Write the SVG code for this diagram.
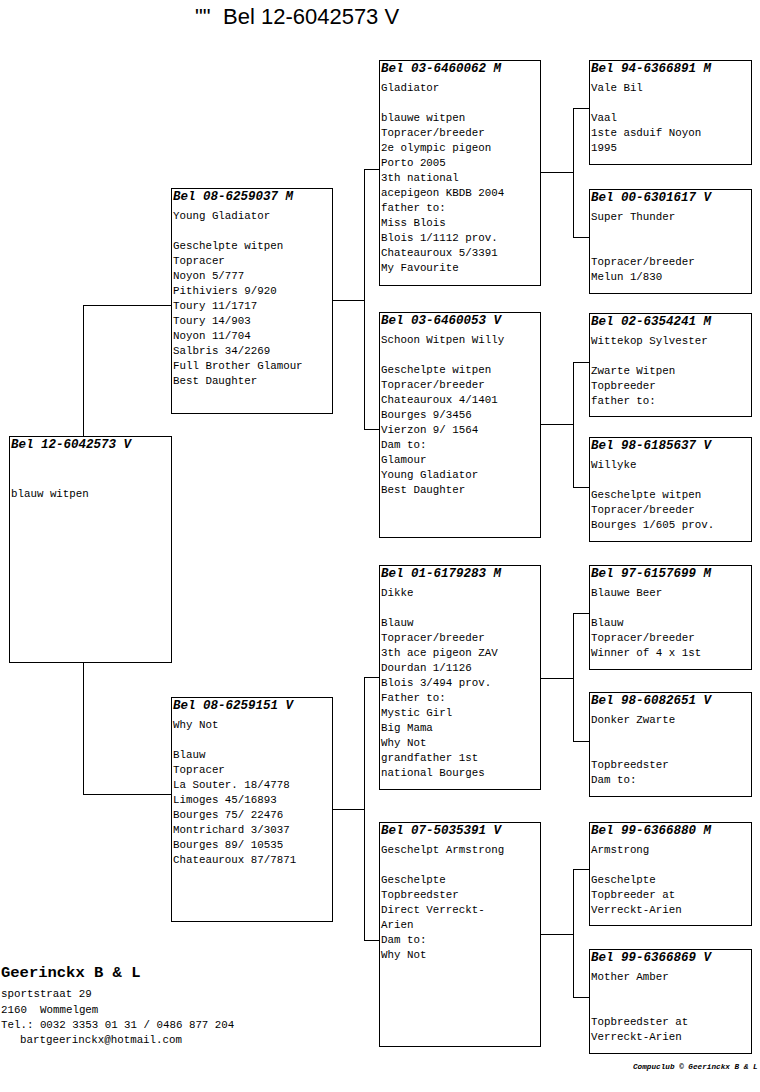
<svg xmlns="http://www.w3.org/2000/svg" width="760" height="1092" viewBox="0 0 760 1092">
<style>
.bx{fill:#fff;stroke:#000;stroke-width:1;shape-rendering:crispEdges}
.cn{fill:none;stroke:#000;stroke-width:1;shape-rendering:crispEdges}
.hd{font-family:"Liberation Mono","Courier New",monospace;font-size:12.5px;font-weight:bold;font-style:italic;fill:#000}
.tx{font-family:"Liberation Mono","Courier New",monospace;font-size:10.8px;fill:#000}
.ttl{font-family:"Liberation Sans",Arial,sans-serif;font-size:22px;fill:#000}
.ft{font-family:"Liberation Mono","Courier New",monospace;font-size:15.5px;font-weight:bold;fill:#000}
.cp{font-family:"Liberation Mono","Courier New",monospace;font-size:7.7px;font-weight:bold;font-style:italic;fill:#000}
</style>
<rect width="760" height="1092" fill="#fff"/>
<text class="ttl" y="24"><tspan x="195">""</tspan><tspan x="223">Bel 12-6042573 V</tspan></text>

<g id="connectors">
<path class="cn" d="M83.5,436 V305.5 H171"/>
<path class="cn" d="M83.5,662 V794.5 H171"/>
<path class="cn" d="M332,300.5 H364.5"/>
<path class="cn" d="M379,169.5 H364.5 V429.5 H379"/>
<path class="cn" d="M332,809.5 H364.5"/>
<path class="cn" d="M379,677.5 H364.5 V940.5 H379"/>
<path class="cn" d="M540,172.5 H573.5"/>
<path class="cn" d="M589,108.5 H573.5 V237.5 H589"/>
<path class="cn" d="M540,424.5 H573.5"/>
<path class="cn" d="M589,362.5 H573.5 V487.5 H589"/>
<path class="cn" d="M540,678.5 H573.5"/>
<path class="cn" d="M589,613.5 H573.5 V741.5 H589"/>
<path class="cn" d="M540,934.5 H573.5"/>
<path class="cn" d="M589,869.5 H573.5 V997.5 H589"/>
</g>

<g id="root">
<rect class="bx" x="9.5" y="436.5" width="162" height="226"/>
<text class="hd" x="11" y="448">Bel 12-6042573 V</text>
<text class="tx" x="11" y="497">blauw witpen</text>
</g>

<g id="sire">
<rect class="bx" x="171.5" y="188.5" width="161" height="225"/>
<text class="hd" x="173" y="200">Bel 08-6259037 M</text>
<text class="tx"><tspan x="173" y="219">Young Gladiator</tspan><tspan x="173" y="249">Geschelpte witpen</tspan><tspan x="173" y="264">Topracer</tspan><tspan x="173" y="279">Noyon 5/777</tspan><tspan x="173" y="294">Pithiviers 9/920</tspan><tspan x="173" y="309">Toury 11/1717</tspan><tspan x="173" y="324">Toury 14/903</tspan><tspan x="173" y="339">Noyon 11/704</tspan><tspan x="173" y="354">Salbris 34/2269</tspan><tspan x="173" y="369">Full Brother Glamour</tspan><tspan x="173" y="384">Best Daughter</tspan></text>
</g>

<g id="dam">
<rect class="bx" x="171.5" y="697.5" width="161" height="224"/>
<text class="hd" x="173" y="709">Bel 08-6259151 V</text>
<text class="tx"><tspan x="173" y="728">Why Not</tspan><tspan x="173" y="758">Blauw</tspan><tspan x="173" y="773">Topracer</tspan><tspan x="173" y="788">La Souter. 18/4778</tspan><tspan x="173" y="803">Limoges 45/16893</tspan><tspan x="173" y="818">Bourges 75/ 22476</tspan><tspan x="173" y="833">Montrichard 3/3037</tspan><tspan x="173" y="848">Bourges 89/ 10535</tspan><tspan x="173" y="863">Chateauroux 87/7871</tspan></text>
</g>

<g id="ss">
<rect class="bx" x="379.5" y="60.5" width="161" height="225"/>
<text class="hd" x="381" y="72">Bel 03-6460062 M</text>
<text class="tx"><tspan x="381" y="91">Gladiator</tspan><tspan x="381" y="121">blauwe witpen</tspan><tspan x="381" y="136">Topracer/breeder</tspan><tspan x="381" y="151">2e olympic pigeon</tspan><tspan x="381" y="166">Porto 2005</tspan><tspan x="381" y="181">3th national</tspan><tspan x="381" y="196">acepigeon KBDB 2004</tspan><tspan x="381" y="211">father to:</tspan><tspan x="381" y="226">Miss Blois</tspan><tspan x="381" y="241">Blois 1/1112 prov.</tspan><tspan x="381" y="256">Chateauroux 5/3391</tspan><tspan x="381" y="271">My Favourite</tspan></text>
</g>

<g id="sd">
<rect class="bx" x="379.5" y="312.5" width="161" height="225"/>
<text class="hd" x="381" y="324">Bel 03-6460053 V</text>
<text class="tx"><tspan x="381" y="343">Schoon Witpen Willy</tspan><tspan x="381" y="373">Geschelpte witpen</tspan><tspan x="381" y="388">Topracer/breeder</tspan><tspan x="381" y="403">Chateauroux 4/1401</tspan><tspan x="381" y="418">Bourges 9/3456</tspan><tspan x="381" y="433">Vierzon 9/ 1564</tspan><tspan x="381" y="448">Dam to:</tspan><tspan x="381" y="463">Glamour</tspan><tspan x="381" y="478">Young Gladiator</tspan><tspan x="381" y="493">Best Daughter</tspan></text>
</g>

<g id="ds">
<rect class="bx" x="379.5" y="565.5" width="161" height="224"/>
<text class="hd" x="381" y="577">Bel 01-6179283 M</text>
<text class="tx"><tspan x="381" y="596">Dikke</tspan><tspan x="381" y="626">Blauw</tspan><tspan x="381" y="641">Topracer/breeder</tspan><tspan x="381" y="656">3th ace pigeon ZAV</tspan><tspan x="381" y="671">Dourdan 1/1126</tspan><tspan x="381" y="686">Blois 3/494 prov.</tspan><tspan x="381" y="701">Father to:</tspan><tspan x="381" y="716">Mystic Girl</tspan><tspan x="381" y="731">Big Mama</tspan><tspan x="381" y="746">Why Not</tspan><tspan x="381" y="761">grandfather 1st</tspan><tspan x="381" y="776">national Bourges</tspan></text>
</g>

<g id="dd">
<rect class="bx" x="379.5" y="822.5" width="161" height="224"/>
<text class="hd" x="381" y="834">Bel 07-5035391 V</text>
<text class="tx"><tspan x="381" y="853">Geschelpt Armstrong</tspan><tspan x="381" y="883">Geschelpte</tspan><tspan x="381" y="898">Topbreedster</tspan><tspan x="381" y="913">Direct Verreckt-</tspan><tspan x="381" y="928">Arien</tspan><tspan x="381" y="943">Dam to:</tspan><tspan x="381" y="958">Why Not</tspan></text>
</g>

<g id="sss">
<rect class="bx" x="589.5" y="60.5" width="162" height="104"/>
<text class="hd" x="591" y="72">Bel 94-6366891 M</text>
<text class="tx"><tspan x="591" y="91">Vale Bil</tspan><tspan x="591" y="121">Vaal</tspan><tspan x="591" y="136">1ste asduif Noyon</tspan><tspan x="591" y="151">1995</tspan></text>
</g>

<g id="ssd">
<rect class="bx" x="589.5" y="189.5" width="162" height="104"/>
<text class="hd" x="591" y="201">Bel 00-6301617 V</text>
<text class="tx"><tspan x="591" y="220">Super Thunder</tspan><tspan x="591" y="265">Topracer/breeder</tspan><tspan x="591" y="280">Melun 1/830</tspan></text>
</g>

<g id="sds">
<rect class="bx" x="589.5" y="313.5" width="162" height="103"/>
<text class="hd" x="591" y="325">Bel 02-6354241 M</text>
<text class="tx"><tspan x="591" y="344">Wittekop Sylvester</tspan><tspan x="591" y="374">Zwarte Witpen</tspan><tspan x="591" y="389">Topbreeder</tspan><tspan x="591" y="404">father to:</tspan></text>
</g>

<g id="sdd">
<rect class="bx" x="589.5" y="437.5" width="162" height="104"/>
<text class="hd" x="591" y="449">Bel 98-6185637 V</text>
<text class="tx"><tspan x="591" y="468">Willyke</tspan><tspan x="591" y="498">Geschelpte witpen</tspan><tspan x="591" y="513">Topracer/breeder</tspan><tspan x="591" y="528">Bourges 1/605 prov.</tspan></text>
</g>

<g id="dss">
<rect class="bx" x="589.5" y="565.5" width="162" height="104"/>
<text class="hd" x="591" y="577">Bel 97-6157699 M</text>
<text class="tx"><tspan x="591" y="596">Blauwe Beer</tspan><tspan x="591" y="626">Blauw</tspan><tspan x="591" y="641">Topracer/breeder</tspan><tspan x="591" y="656">Winner of 4 x 1st</tspan></text>
</g>

<g id="dsd">
<rect class="bx" x="589.5" y="692.5" width="162" height="104"/>
<text class="hd" x="591" y="704">Bel 98-6082651 V</text>
<text class="tx"><tspan x="591" y="723">Donker Zwarte</tspan><tspan x="591" y="768">Topbreedster</tspan><tspan x="591" y="783">Dam to:</tspan></text>
</g>

<g id="dds">
<rect class="bx" x="589.5" y="822.5" width="162" height="103"/>
<text class="hd" x="591" y="834">Bel 99-6366880 M</text>
<text class="tx"><tspan x="591" y="853">Armstrong</tspan><tspan x="591" y="883">Geschelpte</tspan><tspan x="591" y="898">Topbreeder at</tspan><tspan x="591" y="913">Verreckt-Arien</tspan></text>
</g>

<g id="ddd">
<rect class="bx" x="589.5" y="949.5" width="162" height="104"/>
<text class="hd" x="591" y="961">Bel 99-6366869 V</text>
<text class="tx"><tspan x="591" y="980">Mother Amber</tspan><tspan x="591" y="1025">Topbreedster at</tspan><tspan x="591" y="1040">Verreckt-Arien</tspan></text>
</g>

<g id="footer">
<text class="ft" x="1" y="977">Geerinckx B &amp; L</text>
<text class="tx"><tspan x="1" y="997">sportstraat 29</tspan><tspan x="1" y="1013">2160</tspan><tspan x="40" y="1013">Wommelgem</tspan><tspan x="1" y="1028">Tel.: 0032 3353 01 31 / 0486 877 204</tspan><tspan x="20" y="1043">bartgeerinckx@hotmail.com</tspan></text>
<text class="cp" x="633" y="1069">Compuclub © Geerinckx B &amp; L</text>
</g>
</svg>
